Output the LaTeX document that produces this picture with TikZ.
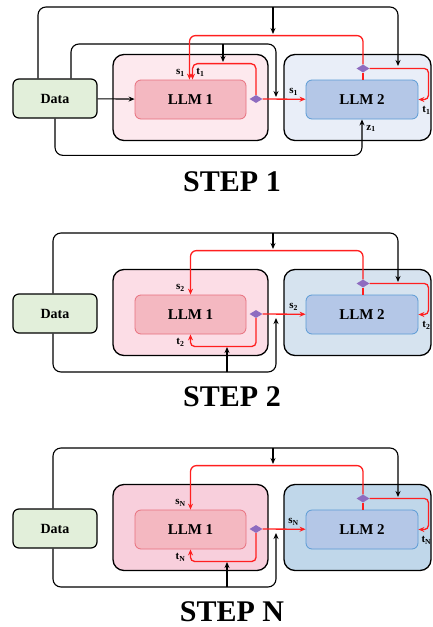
\documentclass[tikz,border=0pt]{standalone}
\usepackage{fontspec}
\setmainfont{Liberation Serif}
\usetikzlibrary{positioning,arrows.meta,shapes.geometric,calc}
\definecolor{datafill}{HTML}{E2EFDA}
\definecolor{llmAfill}{HTML}{F4B8C1}
\definecolor{llmAdraw}{HTML}{E8707E}
\definecolor{llmBfill}{HTML}{B4C7E7}
\definecolor{llmBdraw}{HTML}{5B9BD5}
\definecolor{flowred}{HTML}{FF1F1F}
\definecolor{gatepurple}{HTML}{8E6CC0}
\definecolor{pinkA}{HTML}{FDE9EE}
\definecolor{pinkB}{HTML}{FCDDE6}
\definecolor{pinkN}{HTML}{F8CFDC}
\definecolor{blueA}{HTML}{E9EEF8}
\definecolor{blueB}{HTML}{D6E3EF}
\definecolor{blueN}{HTML}{C0D7EA}

\begin{document}
\begin{tikzpicture}[x=1pt,y=-1pt,
  outbox/.style={draw=black,line width=1.3pt,rounded corners=11pt,minimum width=155pt,minimum height=86pt},
  llmA/.style={draw=llmAdraw,fill=llmAfill,line width=.8pt,rounded corners=6pt,minimum width=111pt,minimum height=39pt,font=\bfseries\fontsize{15}{15}\selectfont},
  llmB/.style={draw=llmBdraw,fill=llmBfill,line width=.8pt,rounded corners=6pt,minimum width=112pt,minimum height=39pt,font=\bfseries\fontsize{15}{15}\selectfont},
  databox/.style={draw=black,fill=datafill,line width=1.2pt,rounded corners=6pt,minimum width=84pt,minimum height=39pt,font=\bfseries\fontsize{14}{14}\selectfont},
  gatemark/.style={diamond,fill=gatepurple,inner sep=0pt,minimum width=13pt,minimum height=8pt},
  steptitle/.style={font=\bfseries\fontsize{30}{30}\selectfont},
  sublab/.style={inner sep=0pt,font=\bfseries\fontsize{11}{11}\selectfont},
  blk/.style={draw=black,line width=1.1pt,-{Stealth[length=6pt,width=5pt]}},
  redarr/.style={draw=flowred,line width=1.3pt,-{Stealth[length=6pt,width=5pt]}},
  redline/.style={draw=flowred,line width=1.3pt}]
\useasboundingbox (0,0) rectangle (432,627);

% boxes of the three steps
\foreach \s/\off/\pa/\pb in {1/0/pinkA/blueA,2/215/pinkB/blueB,N/430/pinkN/blueN}{
  \begin{scope}[shift={(0,\off)}]
    \node[outbox,fill=\pa] (outA\s) at (190.5,97.5) {};
    \node[outbox,fill=\pb,minimum width=147pt] (outB\s) at (357.5,97.5) {};
    \node[llmA] (llmA\s) at (190.5,99.5) {LLM 1};
    \node[llmB] (llmB\s) at (362,99.5) {LLM 2};
    \node[databox] (data\s) at (55,98.5) {Data};
    \node[gatemark] (gA\s) at (256,99) {};
    \node[gatemark] (gB\s) at (363,68.5) {};
    \node[steptitle] (title\s) at (232,182) {STEP \s};
  \end{scope}
}

% step 1
\coordinate (topj1) at (273,7);
\coordinate (tope1) at (273,34);
\coordinate (midj1) at (223,44);
\coordinate (mide1) at (223,62);
\draw[blk,rounded corners=8pt] ([xshift=-17pt]data1.north) |- (398,7) -- (398,66);
\draw[blk] (topj1) -- (tope1);
\draw[blk,rounded corners=8pt] ([xshift=16pt]data1.north) |- (276,44) -- (276,97);
\draw[blk] (midj1) -- (mide1);
\draw[blk,rounded corners=8pt] (data1.south) |- ([yshift=-36pt]llmB1.south) -- (llmB1.south);
\draw[blk] (data1) -- (llmA1);
\draw[redarr] (gA1) -- node[sublab,above=3pt,pos=.72]{s\textsubscript{1}} (llmB1);
\draw[redarr,rounded corners=5pt] (gA1.north) |- ([xshift=2pt,yshift=16pt]llmA1.north) -- ([xshift=2pt]llmA1.north);
\draw[redarr,rounded corners=6pt] (gB1.north) |- ([xshift=-1pt,yshift=44pt]llmA1.north) -- ([xshift=-1pt]llmA1.north);
\draw[redline] (gB1.south) -- (gB1 |- llmB1.north);
\draw[redarr,rounded corners=4pt] (gB1.east) -| ([xshift=10pt]llmB1.east) -- (llmB1.east);
\node[sublab] at ([xshift=-10pt,yshift=7pt]llmA1.north) {s\textsubscript{1}};
\node[sublab] at ([xshift=10pt,yshift=7pt]llmA1.north) {t\textsubscript{1}};
\node[sublab] at ([xshift=8pt,yshift=-11pt]llmB1.east) {t\textsubscript{1}};
\node[sublab] at ([xshift=9pt,yshift=-9pt]llmB1.south) {z\textsubscript{1}};

% step 2 and step N
\foreach \s/\off in {2/215,N/430}{
  \begin{scope}[shift={(0,\off)}]
    \coordinate (topj\s) at (273,18);
    \coordinate (tope\s) at (273,34);
    \coordinate (botj\s) at (227,157);
    \coordinate (bote\s) at (227,132);
    \draw[blk,rounded corners=8pt] ([xshift=-2pt]data\s.north) |- (398,18) -- (398,67);
    \draw[blk] (topj\s) -- (tope\s);
    \draw[blk,rounded corners=8pt] ([xshift=-2pt]data\s.south) |- (276,157) -- (276,103);
    \draw[blk] (botj\s) -- (bote\s);
    \draw[redarr] (gA\s) -- node[sublab,above=3pt,pos=.72]{s\textsubscript{\s}} (llmB\s);
    \draw[redarr,rounded corners=4pt] (gA\s.south) |- ([yshift=-12pt]llmA\s.south) -- (llmA\s.south);
    \draw[redarr,rounded corners=6pt] (gB\s.north) |- ([yshift=44pt]llmA\s.north) -- (llmA\s.north);
    \draw[redline] (gB\s.south) -- (gB\s |- llmB\s.north);
    \draw[redarr,rounded corners=4pt] (gB\s.east) -| ([xshift=10pt]llmB\s.east) -- (llmB\s.east);
    \node[sublab] at ([xshift=-10pt,yshift=7pt]llmA\s.north) {s\textsubscript{\s}};
    \node[sublab] at ([xshift=-10pt,yshift=-8pt]llmA\s.south) {t\textsubscript{\s}};
    \node[sublab] at ([xshift=8pt,yshift=-11pt]llmB\s.east) {t\textsubscript{\s}};
  \end{scope}
}
\end{tikzpicture}
\end{document}
